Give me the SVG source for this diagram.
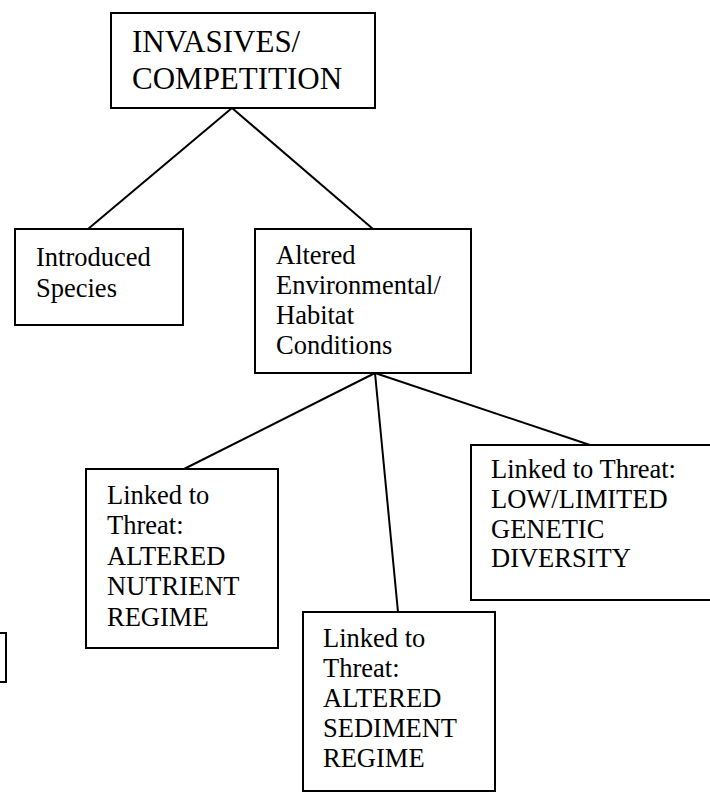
<svg xmlns="http://www.w3.org/2000/svg" width="710" height="793" viewBox="0 0 710 793">
<style>
.box{fill:#fff;stroke:#000;stroke-width:2}
.ln{stroke:#000;stroke-width:2;fill:none}
.t{font-size:26.5px}
.big{font-size:31px}
</style>
<rect width="710" height="793" fill="#fff"/>
<g id="connectors">
<line class="ln" x1="232" y1="108" x2="88" y2="229"/>
<line class="ln" x1="232" y1="108" x2="373" y2="229"/>
<line class="ln" x1="375" y1="373" x2="184" y2="469"/>
<line class="ln" x1="375" y1="373" x2="398" y2="612"/>
<line class="ln" x1="375" y1="373" x2="590" y2="445"/>
</g>
<g font-family="'Liberation Serif', 'Times New Roman', 'DejaVu Serif', serif" fill="#000">
<g id="invasives">
<rect class="box" x="111" y="13" width="264" height="95"/>
<text class="big" x="132" y="52">INVASIVES/</text>
<text class="big" x="132" y="89">COMPETITION</text>
</g>
<g id="introduced">
<rect class="box" x="15" y="229" width="168" height="96"/>
<text class="t" x="36" y="266">Introduced</text>
<text class="t" x="36" y="297">Species</text>
</g>
<g id="altered">
<rect class="box" x="255" y="229" width="216" height="144"/>
<text class="t" x="276" y="264">Altered</text>
<text class="t" x="276" y="294">Environmental/</text>
<text class="t" x="276" y="324">Habitat</text>
<text class="t" x="276" y="354">Conditions</text>
</g>
<g id="nutrient">
<rect class="box" x="86" y="469" width="192" height="179"/>
<text class="t" x="107" y="504">Linked to</text>
<text class="t" x="107" y="534">Threat:</text>
<text class="t" x="107" y="565">ALTERED</text>
<text class="t" x="107" y="595">NUTRIENT</text>
<text class="t" x="107" y="626">REGIME</text>
</g>
<g id="sediment">
<rect class="box" x="303" y="612" width="192" height="179"/>
<text class="t" x="323" y="647">Linked to</text>
<text class="t" x="323" y="677">Threat:</text>
<text class="t" x="323" y="707">ALTERED</text>
<text class="t" x="323" y="737">SEDIMENT</text>
<text class="t" x="323" y="767">REGIME</text>
</g>
<g id="genetic">
<rect class="box" x="471" y="445" width="260" height="155"/>
<text class="t" x="491" y="478">Linked to Threat:</text>
<text class="t" x="491" y="508">LOW/LIMITED</text>
<text class="t" x="491" y="538">GENETIC</text>
<text class="t" x="491" y="567">DIVERSITY</text>
</g>
</g>
<g id="fragment">
<path class="ln" d="M-2,633 H6 V682 H-2"/>
</g>
</svg>
